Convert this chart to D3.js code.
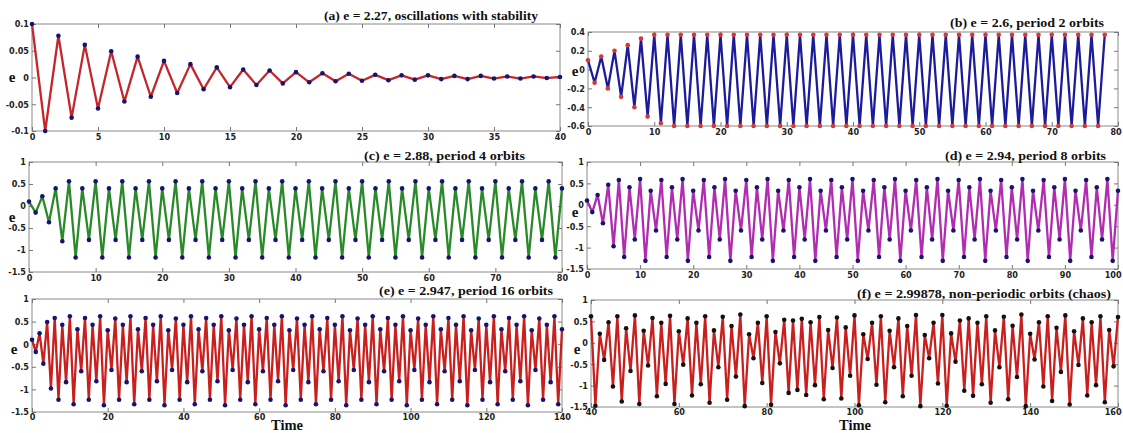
<!DOCTYPE html>
<html><head><meta charset="utf-8">
<script src="https://cdn.jsdelivr.net/npm/d3@7"></script>
<style>
body{margin:0;background:#fff}
.tick text{font-family:"Liberation Sans Narrow","DejaVu Sans Condensed","Liberation Sans",Arial,sans-serif;font-size:9px;font-weight:bold;fill:#222}
.tick line{stroke:#777}
.ttl{font-family:"Liberation Serif","Times New Roman",serif;font-weight:bold;font-size:13px;fill:#111}
.ylab{font-family:"Liberation Serif","Times New Roman",serif;font-weight:bold;font-size:15px;fill:#111}
.xlab{font-family:"Liberation Serif","Times New Roman",serif;font-weight:bold;font-size:14.5px;fill:#111}
</style></head>
<body><svg id="c" width="1123" height="433"></svg>
<script>
// ---- data ----
const startA = 0;
const seriesA = [0.1,-0.1,0.078,-0.075,0.061,-0.058,0.049,-0.045,0.039,-0.036,0.031,-0.029,0.025,-0.022,0.019,-0.018,0.015,-0.014,0.013,-0.011,0.010,-0.009,0.008,-0.007,0.007,-0.006,0.005,-0.005,0.004,-0.004,0.004,-0.003,0.003,-0.003,0.003,-0.002,0.002,-0.002,0.002,-0.001,0.001];
const startB = 0;
const seriesB = [0.1,-0.14,0.14,-0.2,0.2,-0.29,0.26,-0.4,0.33,-0.5,0.37,-0.57,0.37,-0.6,
 0.37,-0.6,0.37,-0.6,0.37,-0.6,0.37,-0.6,0.37,-0.6,0.37,-0.6,0.37,-0.6,0.37,-0.6,0.37,-0.6,0.37,-0.6,0.37,-0.6,
 0.37,-0.6,0.37,-0.6,0.37,-0.6,0.37,-0.6,0.37,-0.6,0.37,-0.6,0.37,-0.6,0.37,-0.6,0.37,-0.6,0.37,-0.6,0.37,-0.6,
 0.37,-0.6,0.37,-0.6,0.37,-0.6,0.37,-0.6,0.37,-0.6,0.37,-0.6,0.37,-0.6,0.37,-0.6,0.37,-0.6,0.37,-0.6,0.37];
const startC = 0;
const seriesC = [0.1,-0.15,0.22,-0.37,0.4,-0.8,0.56,-1.17,
 0.4,-0.77,0.56,-1.17,0.4,-0.77,0.56,-1.17,0.4,-0.77,0.56,-1.17,0.4,-0.77,0.56,-1.17,
 0.4,-0.77,0.56,-1.17,0.4,-0.77,0.56,-1.17,0.4,-0.77,0.56,-1.17,0.4,-0.77,0.56,-1.17,
 0.4,-0.77,0.56,-1.17,0.4,-0.77,0.56,-1.17,0.4,-0.77,0.56,-1.17,0.4,-0.77,0.56,-1.17,
 0.4,-0.77,0.56,-1.17,0.4,-0.77,0.56,-1.17,0.4,-0.77,0.56,-1.17,0.4,-0.77,0.56,-1.17,
 0.4,-0.77,0.56,-1.17,0.4,-0.77,0.56,-1.17,0.4];
const startD = 0;
const seriesD = [0.1,-0.17,0.23,-0.43,0.47,-0.97,0.58,-1.22,
 0.41,-0.81,0.6,-1.31,0.33,-0.6,0.58,-1.22, 0.41,-0.81,0.6,-1.31,0.33,-0.6,0.58,-1.22,
 0.41,-0.81,0.6,-1.31,0.33,-0.6,0.58,-1.22, 0.41,-0.81,0.6,-1.31,0.33,-0.6,0.58,-1.22,
 0.41,-0.81,0.6,-1.31,0.33,-0.6,0.58,-1.22, 0.41,-0.81,0.6,-1.31,0.33,-0.6,0.58,-1.22,
 0.41,-0.81,0.6,-1.31,0.33,-0.6,0.58,-1.22, 0.41,-0.81,0.6,-1.31,0.33,-0.6,0.58,-1.22,
 0.41,-0.81,0.6,-1.31,0.33,-0.6,0.58,-1.22, 0.41,-0.81,0.6,-1.31,0.33,-0.6,0.58,-1.22,
 0.41,-0.81,0.6,-1.31,0.33,-0.6,0.58,-1.22,
 0.41,-0.81,0.6,-1.31,0.33];
const startE = 0;
const seriesE = [0.1,-0.17,0.24,-0.43,0.49,-0.98,0.58,-1.23,
 0.43,-0.84,0.62,-1.33,0.33,-0.6,0.58,-1.23,0.43,-0.82,0.62,-1.35,0.31,-0.57,0.57,-1.23,
 0.43,-0.84,0.62,-1.33,0.33,-0.6,0.58,-1.23,0.43,-0.82,0.62,-1.35,0.31,-0.57,0.57,-1.23,
 0.43,-0.84,0.62,-1.33,0.33,-0.6,0.58,-1.23,0.43,-0.82,0.62,-1.35,0.31,-0.57,0.57,-1.23,
 0.43,-0.84,0.62,-1.33,0.33,-0.6,0.58,-1.23,0.43,-0.82,0.62,-1.35,0.31,-0.57,0.57,-1.23,
 0.43,-0.84,0.62,-1.33,0.33,-0.6,0.58,-1.23,0.43,-0.82,0.62,-1.35,0.31,-0.57,0.57,-1.23,
 0.43,-0.84,0.62,-1.33,0.33,-0.6,0.58,-1.23,0.43,-0.82,0.62,-1.35,0.31,-0.57,0.57,-1.23,
 0.43,-0.84,0.62,-1.33,0.33,-0.6,0.58,-1.23,0.43,-0.82,0.62,-1.35,0.31,-0.57,0.57,-1.23,
 0.43,-0.84,0.62,-1.33,0.33,-0.6,0.58,-1.23,0.43,-0.82,0.62,-1.35,0.31,-0.57,0.57,-1.23,
 0.43,-0.84,0.62,-1.33,0.33];
const startF = 40;
const seriesF = [0.62,-1.47,0.21,-0.40,0.48,-1.02,0.62,-1.37,0.34,-0.66,
 0.64,-1.43,0.28,-0.53,0.58,-1.25,0.47,-0.96,0.63,-1.43,
 0.27,-0.51,0.57,-1.23,0.47,-0.97,0.62,-1.40,0.29,-0.57,
 0.61,-1.33,0.39,-0.79,0.66,-1.48,0.20,-0.36,0.47,-0.94,
 0.62,-1.45,0.25,-0.48,0.54,-1.17,0.52,-1.10,0.56,-1.22,
 0.48,-0.99,0.60,-1.32,0.30,-0.59,0.59,-1.30,0.36,-0.77,
 0.64,-1.46,0.20,-0.38,0.47,-0.98,0.62,-1.39,0.28,-0.57,
 0.57,-1.25,0.39,-0.77,0.65,-1.48,0.18,-0.36,0.47,-0.95,
 0.65,-1.47,0.22,-0.44,0.52,-1.12,0.57,-1.24,0.47,-0.97,
 0.62,-1.40,0.29,-0.57,0.61,-1.32,0.40,-0.80,0.66,-1.48,
 0.21,-0.39,0.48,-1.02,0.62,-1.36,0.35,-0.68,0.64,-1.44,
 0.27,-0.52,0.57,-1.23,0.48,-0.99,0.62,-1.39,0.30,-0.55,
 0.60];

const xTicksA = [0,5,10,15,20,25,30,35,40];
const yTicksA = [-0.1,-0.05,0,0.05,0.1];
const xTicksB = [0,10,20,30,40,50,60,70,80];
const yTicksB = [-0.6,-0.4,-0.2,0,0.2,0.4];
const xTicksC = [0,10,20,30,40,50,60,70,80];
const xTicksD = [0,10,20,30,40,50,60,70,80,90,100];
const xTicksE = [0,20,40,60,80,100,120,140];
const xTicksF = [40,60,80,100,120,140,160];
const yTicksCDEF = [-1.5,-1,-0.5,0,0.5,1];

const titles = ["(a) e = 2.27, oscillations with stability","(b) e = 2.6, period 2 orbits","(c) e = 2.88, period 4 orbits","(d) e = 2.94, period 8 orbits","(e) e = 2.947, period 16 orbits","(f) e = 2.99878, non-periodic orbits (chaos)"];

// ---- layout / style ----
const panels = [
 {data:seriesA,start:startA,xd:[0,40],xt:xTicksA,yd:[-0.1,0.1],yt:yTicksA,L:32,R:560,T:24,B:131,line:"#c4262b",dot:"#15156e",title:titles[0],tx1:324,tx2:538,ty:20,ex:12,ey:78,pad:3},
 {data:seriesB,start:startB,xd:[0,80],xt:xTicksB,yd:[-0.6,0.4],yt:yTicksB,L:588,R:1118,T:32,B:126,line:"#1c1c9a",dot:"#d23a3a",title:titles[1],tx1:950,tx2:1104,ty:27,ex:575,ey:72,pad:3},
 {data:seriesC,start:startC,xd:[0,80],xt:xTicksC,yd:[-1.5,1],yt:yTicksCDEF,L:29,R:562,T:162,B:272,line:"#2a8a2a",dot:"#15156e",title:titles[2],tx1:364,tx2:525,ty:160,ex:12,ey:218,pad:3},
 {data:seriesD,start:startD,xd:[0,100],xt:xTicksD,yd:[-1.5,1],yt:yTicksCDEF,L:587,R:1118,T:162,B:269,line:"#b02cb0",dot:"#15156e",title:titles[3],tx1:945,tx2:1106,ty:160,ex:575,ey:213,pad:3},
 {data:seriesE,start:startE,xd:[0,140],xt:xTicksE,yd:[-1.5,1],yt:yTicksCDEF,L:32,R:562,T:299,B:412,line:"#c8201f",dot:"#15156e",title:titles[4],tx1:379,tx2:553,ty:295,ex:14,ey:350,pad:2,xlab:"Time",xlx:287,xly:429.5},
 {data:seriesF,start:startF,xd:[40,160],xt:xTicksF,yd:[-1.5,1],yt:yTicksCDEF,L:591,R:1118,T:300,B:407,line:"#c8201f",dot:"#111",title:titles[5],tx1:857,tx2:1111,ty:298,ex:577,ey:350,pad:1.5,xlab:"Time",xlx:855,xly:429.5}
];

const svg = d3.select("#c");
const fmt = v => String(v);

panels.forEach(p => {
  const x = d3.scaleLinear().domain(p.xd).range([p.L,p.R]);
  const y = d3.scaleLinear().domain(p.yd).range([p.B,p.T]);
  const g = svg.append("g");
  g.append("rect").attr("x",p.L).attr("y",p.T).attr("width",p.R-p.L).attr("height",p.B-p.T)
    .attr("fill","#fff").attr("stroke","#8a8a8a").attr("stroke-width",1);
  const ax = (axis, tr) => {
    const a = g.append("g").attr("transform",tr).call(axis);
    a.select(".domain").remove();
    return a;
  };
  const bx = ax(d3.axisBottom(x).tickValues(p.xt).tickSize(-4).tickPadding(p.pad).tickFormat(fmt), `translate(0,${p.B})`);
  // keep the last label inside the window
  bx.selectAll(".tick text").each(function(){
    const bb = this.getBBox();
    const tx = +this.parentNode.getAttribute("transform").match(/translate\(([^,]+)/)[1];
    const over = tx + bb.x + bb.width - 1122;
    if (over > 0) d3.select(this).attr("x", -over);
  });
  ax(d3.axisTop(x).tickValues(p.xt).tickSize(-4).tickFormat(""), `translate(0,${p.T})`);
  ax(d3.axisLeft(y).tickValues(p.yt).tickSize(-4).tickPadding(3).tickFormat(fmt), `translate(${p.L},0)`);
  ax(d3.axisRight(y).tickValues(p.yt).tickSize(-4).tickFormat(""), `translate(${p.R},0)`);

  const pts = p.data.map((v,i)=>({t:p.start+i,v}));
  g.append("path").datum(pts)
    .attr("d", d3.line().x(d=>x(d.t)).y(d=>y(d.v)))
    .attr("fill","none").attr("stroke",p.line).attr("stroke-width",2.3).attr("stroke-linejoin","round");
  g.selectAll("circle").data(pts).join("circle")
    .attr("cx",d=>x(d.t)).attr("cy",d=>y(d.v)).attr("r",2.3).attr("fill",p.dot);

  g.append("text").attr("class","ttl").attr("x",p.tx1).attr("y",p.ty)
    .attr("textLength",p.tx2-p.tx1).attr("lengthAdjust","spacingAndGlyphs").text(p.title);
  g.append("text").attr("class","ylab").attr("x",p.ex).attr("y",p.ey+4).attr("text-anchor","middle").text("e");
  if (p.xlab) g.append("text").attr("class","xlab").attr("x",p.xlx).attr("y",p.xly).attr("text-anchor","middle").text(p.xlab);
});
</script>
</body></html>
